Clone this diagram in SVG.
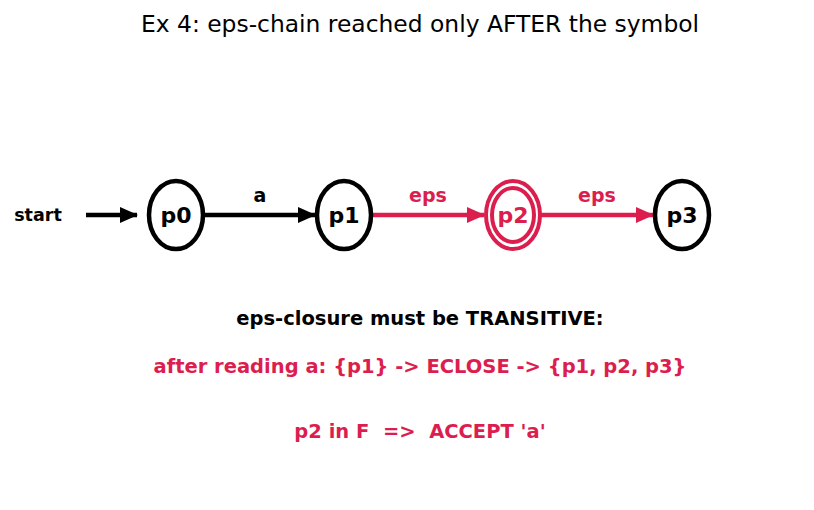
<svg xmlns="http://www.w3.org/2000/svg" width="814" height="510" viewBox="0 0 814 510">
<defs>
<style>
text{font-family:"DejaVu Sans",sans-serif;}
.node{fill:#ffffff;stroke:#000000;stroke-width:4.5;}
.acc{fill:#ffffff;stroke:#dc1e4f;stroke-width:4;}
.nl{font-size:22px;font-weight:bold;text-anchor:middle;}
.el{font-size:19px;font-weight:bold;text-anchor:middle;}
.tx{font-size:19.5px;font-weight:bold;text-anchor:middle;}
.blk{stroke:#000000;stroke-width:4.5;fill:none;}
.red{stroke:#dc1e4f;stroke-width:4.5;fill:none;}
</style>
<marker id="ab" viewBox="0 0 18 16" refX="17" refY="8" markerWidth="18" markerHeight="16" markerUnits="userSpaceOnUse" orient="auto"><path d="M0,0 L18,8 L0,16 Z" fill="#000000"/></marker>
<marker id="ar" viewBox="0 0 18 16" refX="17" refY="8" markerWidth="18" markerHeight="16" markerUnits="userSpaceOnUse" orient="auto"><path d="M0,0 L18,8 L0,16 Z" fill="#dc1e4f"/></marker>
</defs>
<rect width="814" height="510" fill="#ffffff"/>
<text x="420" y="32" font-size="23.4" text-anchor="middle">Ex 4: eps-chain reached only AFTER the symbol</text>
<g id="connectors">
<line class="blk" x1="86" y1="215" x2="137" y2="215" marker-end="url(#ab)"/>
<text x="38" y="221" font-size="17.5" font-weight="bold" text-anchor="middle">start</text>
<line class="blk" x1="203" y1="215" x2="315" y2="215" marker-end="url(#ab)"/>
<text class="el" x="260" y="202">a</text>
<line class="red" x1="371" y1="215" x2="484" y2="215" marker-end="url(#ar)"/>
<text class="el" x="428" y="202" fill="#dc1e4f">eps</text>
<line class="red" x1="540" y1="215" x2="653" y2="215" marker-end="url(#ar)"/>
<text class="el" x="597" y="202" fill="#dc1e4f">eps</text>
</g>
<g id="p0"><ellipse class="node" cx="176" cy="215" rx="27" ry="34"/><text class="nl" x="176" y="223">p0</text></g>
<g id="p1"><ellipse class="node" cx="344" cy="215" rx="27" ry="34"/><text class="nl" x="344" y="223">p1</text></g>
<g id="p2"><ellipse class="acc" cx="513" cy="215" rx="27" ry="34"/><ellipse class="acc" cx="513" cy="215" rx="21" ry="27"/><text class="nl" x="513" y="223" fill="#dc1e4f">p2</text></g>
<g id="p3"><ellipse class="node" cx="682" cy="215" rx="27" ry="34"/><text class="nl" x="682" y="223">p3</text></g>
<text class="tx" x="420" y="325">eps-closure must be TRANSITIVE:</text>
<text class="tx" x="420" y="373" fill="#dc1e4f">after reading a: {p1} -&gt; ECLOSE -&gt; {p1, p2, p3}</text>
<text class="tx" x="420" y="438" fill="#dc1e4f" xml:space="preserve" style="white-space:pre">p2 in F  =&gt;  ACCEPT 'a'</text>
</svg>
